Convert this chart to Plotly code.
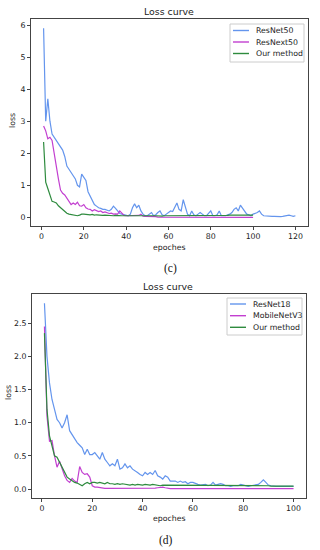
import plotly.graph_objects as go

# ---------------- data (c) ----------------
resnet50 = [5.9, 3.0, 3.7, 3.0, 2.6, 2.5, 2.4, 2.3, 2.2, 2.1,
            1.9, 1.6, 1.5, 1.4, 1.3, 1.2, 1.0, 0.95, 1.35, 1.25,
            1.15, 0.8, 0.65, 0.5, 0.4, 0.35, 0.3, 0.28, 0.25, 0.25,
            0.22, 0.2, 0.25, 0.35, 0.28, 0.2, 0.12, 0.1, 0.08, 0.05,
            0.05, 0.1, 0.3, 0.42, 0.3, 0.38, 0.2, 0.1, 0.05, 0.05,
            0.1, 0.15, 0.05, 0.08, 0.15, 0.2, 0.08, 0.05, 0.1, 0.15,
            0.2, 0.18, 0.3, 0.45, 0.25, 0.2, 0.55, 0.3, 0.1, 0.05,
            0.2, 0.08, 0.05, 0.1, 0.15, 0.1, 0.05, 0.05, 0.12, 0.2,
            0.05, 0.05, 0.08, 0.2, 0.05, 0.05, 0.05, 0.08, 0.1, 0.15,
            0.25, 0.3, 0.2, 0.38, 0.28, 0.2, 0.1, 0.08, 0.05, 0.1,
            0.12, 0.15, 0.2, 0.1, 0.05, 0.04, 0.04, 0.04, 0.03, 0.03,
            0.02, 0.02, 0.02, 0.03, 0.04, 0.05, 0.07, 0.05, 0.03, 0.05]
resnext50 = [2.85, 2.7, 2.45, 2.5, 2.4, 2.0, 1.5, 1.2, 0.85, 0.75,
             0.7, 0.6, 0.5, 0.4, 0.45, 0.4, 0.47, 0.36, 0.35, 0.4,
             0.3, 0.26, 0.25, 0.2, 0.24, 0.2, 0.18, 0.2, 0.15, 0.17,
             0.15, 0.12, 0.13, 0.1, 0.11, 0.1, 0.2, 0.12, 0.06, 0.05,
             0.05, 0.04, 0.05, 0.04, 0.05, 0.06, 0.1, 0.04, 0.03, 0.03,
             0.03, 0.04, 0.02, 0.02, 0.01, 0.01, 0.0, 0.01, 0.01, 0.0,
             0.01, 0.02, 0.01, 0.01, 0.0, 0.0, 0.01, 0.0, 0.0, 0.0,
             0.0, 0.0, 0.01, 0.0, 0.0, 0.0, 0.0, 0.0, 0.0, 0.0,
             0.01, 0.0, 0.0, 0.0, 0.0, 0.0, 0.0, 0.01, 0.0, 0.0,
             0.0, 0.0, 0.0, 0.0, 0.0, 0.0, 0.01, 0.0, 0.0, 0.0]
ours_c = [2.35, 1.1, 0.9, 0.7, 0.5, 0.48, 0.45, 0.36, 0.3, 0.24,
          0.18, 0.13, 0.1, 0.09, 0.08, 0.06, 0.05, 0.07, 0.1, 0.1,
          0.09, 0.1, 0.08, 0.09, 0.07, 0.08, 0.07, 0.08, 0.06, 0.07,
          0.06, 0.07, 0.06, 0.05, 0.06, 0.05, 0.06, 0.05, 0.05, 0.06,
          0.05, 0.05, 0.06, 0.05, 0.05, 0.04, 0.05, 0.05, 0.04, 0.05,
          0.05, 0.04, 0.05, 0.05, 0.04, 0.05, 0.04, 0.05, 0.05, 0.04,
          0.05, 0.04, 0.05, 0.05, 0.04, 0.05, 0.05, 0.04, 0.05, 0.05,
          0.05, 0.05, 0.04, 0.05, 0.05, 0.05, 0.04, 0.05, 0.05, 0.05,
          0.05, 0.05, 0.06, 0.05, 0.05, 0.06, 0.06, 0.06, 0.07, 0.07,
          0.07, 0.07, 0.07, 0.07, 0.07, 0.07, 0.07, 0.07, 0.07, 0.07]

# ---------------- data (d) ----------------
resnet18 = [2.8, 2.0, 1.6, 1.35, 1.2, 1.05, 1.0, 0.92, 1.0, 1.12,
            0.88, 0.82, 0.75, 0.7, 0.66, 0.62, 0.52, 0.6, 0.52, 0.52,
            0.55, 0.5, 0.45, 0.55, 0.45, 0.4, 0.35, 0.38, 0.35, 0.45,
            0.3, 0.32, 0.38, 0.32, 0.35, 0.3, 0.28, 0.25, 0.22, 0.2,
            0.25, 0.22, 0.25, 0.22, 0.28, 0.2, 0.18, 0.15, 0.2, 0.18,
            0.12, 0.12, 0.12, 0.1, 0.12, 0.1, 0.11, 0.08, 0.1, 0.1,
            0.08, 0.07, 0.06, 0.06, 0.07, 0.05, 0.06, 0.1, 0.06, 0.07,
            0.08, 0.07, 0.05, 0.05, 0.04, 0.05, 0.05, 0.05, 0.07, 0.06,
            0.04, 0.04, 0.05, 0.06, 0.06, 0.07, 0.1, 0.14, 0.1, 0.06,
            0.05, 0.04, 0.04, 0.04, 0.04, 0.04, 0.04, 0.04, 0.04, 0.04]
mobilenetv3 = [2.45, 1.1, 0.72, 0.73, 0.5, 0.33, 0.42, 0.3, 0.2, 0.13,
               0.1, 0.16, 0.12, 0.1, 0.34, 0.25, 0.22, 0.23, 0.18, 0.05,
               0.03, 0.03, 0.02, 0.02, 0.01, 0.01, 0.01, 0.01, 0.005, 0.005,
               0.005, 0.005, 0.005, 0.005, 0.005, 0.005, 0.005, 0.005, 0.005, 0.005,
               0.005, 0.005, 0.01, 0.01, 0.015, 0.02, 0.025, 0.03, 0.02, 0.01,
               0.005, 0.005, 0.005, 0.005, 0.005, 0.005, 0.005, 0.005, 0.005, 0.005,
               0.005, 0.005, 0.005, 0.005, 0.005, 0.005, 0.005, 0.005, 0.005, 0.005,
               0.005, 0.005, 0.005, 0.005, 0.005, 0.005, 0.005, 0.005, 0.005, 0.005,
               0.005, 0.005, 0.005, 0.005, 0.005, 0.005, 0.005, 0.005, 0.005, 0.005,
               0.005, 0.005, 0.005, 0.005, 0.005, 0.005, 0.005, 0.005, 0.005, 0.005]
ours_d = [2.35, 1.2, 0.8, 0.65, 0.5, 0.48, 0.4, 0.32, 0.25, 0.18,
          0.15, 0.12, 0.1, 0.09, 0.07, 0.05, 0.08, 0.1, 0.08, 0.1,
          0.1, 0.09, 0.1, 0.09, 0.08, 0.1, 0.08, 0.08, 0.07, 0.08,
          0.07, 0.08, 0.07, 0.07, 0.06, 0.07, 0.06, 0.07, 0.06, 0.06,
          0.07, 0.06, 0.06, 0.07, 0.06, 0.06, 0.05, 0.06, 0.06, 0.05,
          0.06, 0.05, 0.06, 0.05, 0.05, 0.06, 0.05, 0.05, 0.05, 0.05,
          0.05, 0.05, 0.05, 0.05, 0.05, 0.05, 0.05, 0.05, 0.05, 0.05,
          0.05, 0.05, 0.05, 0.05, 0.05, 0.05, 0.05, 0.05, 0.05, 0.05,
          0.05, 0.05, 0.05, 0.05, 0.05, 0.05, 0.05, 0.05, 0.05, 0.05,
          0.045, 0.045, 0.045, 0.045, 0.045, 0.045, 0.045, 0.045, 0.045, 0.045]

names_c = ["ResNet50", "ResNext50", "Our method"]
names_d = ["ResNet18", "MobileNetV3", "Our method"]
x_ticks_c = [0, 20, 40, 60, 80, 100, 120]
y_ticks_c = [0, 1, 2, 3, 4, 5, 6]
x_ticks_d = [0, 20, 40, 60, 80, 100]
y_ticks_d = [0.0, 0.5, 1.0, 1.5, 2.0, 2.5]

BLUE = "#6495ED"
MAG = "#C23FD0"
GREEN = "#2E8B3E"
COLORS = [BLUE, MAG, GREEN]
FONT = "DejaVu Sans"
AX = "#444444"
FS = 7.8

fig = go.Figure()

def add(y, name, color, xa, ya):
    fig.add_trace(go.Scatter(x=list(range(1, len(y) + 1)), y=y, name=name,
                             mode="lines", line=dict(color=color, width=1.2),
                             xaxis=xa, yaxis=ya, showlegend=False,
                             hoverinfo="skip"))

for ys, nm, c in zip([resnet50, resnext50, ours_c], names_c, COLORS):
    add(ys, nm, c, "x", "y")
for ys, nm, c in zip([resnet18, mobilenetv3, ours_d], names_d, COLORS):
    add(ys, nm, c, "x2", "y2")

W, H = 320, 550

def axis(domain, rng, ticks, anchor, fmt=None):
    d = dict(domain=domain, range=rng, tickvals=ticks, anchor=anchor,
             showline=True, mirror=True, linecolor=AX, linewidth=1,
             ticks="outside", ticklen=3, tickcolor=AX, showgrid=False,
             zeroline=False, fixedrange=True,
             tickfont=dict(family=FONT, size=FS, color="#222"))
    if fmt:
        d["tickformat"] = fmt
    return d

fig.update_layout(
    width=W, height=H, margin=dict(l=0, r=0, t=0, b=0),
    paper_bgcolor="white", plot_bgcolor="white", hovermode=False,
    xaxis=axis([31 / W, 308 / W], [-4.95, 125.95], x_ticks_c, "y"),
    yaxis=axis([1 - 226 / H, 1 - 19 / H], [-0.27, 6.19], y_ticks_c, "x"),
    xaxis2=axis([32 / W, 306 / W], [-3.95, 104.95], x_ticks_d, "y2"),
    yaxis2=axis([1 - 498 / H, 1 - 294 / H], [-0.135, 2.94], y_ticks_d, "x2", ".1f"),
)

def px(x):
    return x / W

def py(y):
    return 1 - y / H

def txt(x, y, s, size, family=FONT, angle=0, color="#222", xanchor="center"):
    fig.add_annotation(x=px(x), y=py(y), xref="paper", yref="paper",
                       text=s, showarrow=False, textangle=angle,
                       font=dict(family=family, size=size, color=color),
                       xanchor=xanchor, yanchor="middle")

def legend_box(left, top, right, bottom, names, rows):
    fig.add_shape(type="rect", xref="paper", yref="paper",
                  x0=px(left), x1=px(right), y0=py(bottom), y1=py(top),
                  line=dict(color="#cccccc", width=1), fillcolor="white")
    for nm, c, ry in zip(names, COLORS, rows):
        fig.add_shape(type="line", xref="paper", yref="paper",
                      x0=px(left + 3), x1=px(left + 19), y0=py(ry), y1=py(ry),
                      line=dict(color=c, width=1.4))
        txt(left + 24, ry, nm, FS, xanchor="left")

legend_box(230, 24, 304, 62, names_c, [30.5, 42, 53.5])
legend_box(227, 298, 302, 335, names_d, [304, 315.7, 327.3])

txt(169, 11, "Loss curve", 9.4)
txt(169, 247, "epoches", FS)
txt(13, 121, "loss", FS, angle=-90)
txt(170, 268, "(c)", 11.5, family="Liberation Serif", color="#111")

txt(168, 286, "Loss curve", 9.4)
txt(169, 518, "epoches", FS)
txt(8, 393, "loss", FS, angle=-90)
txt(166, 540, "(d)", 11.5, family="Liberation Serif", color="#111")

fig.write_html("out.html", config={"displayModeBar": False, "staticPlot": True},
               post_script="document.body.style.margin='0';")
